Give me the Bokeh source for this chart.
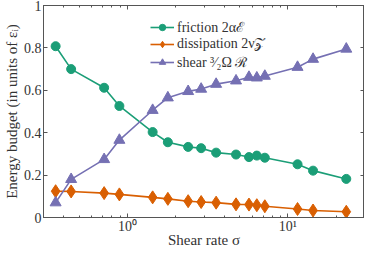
from bokeh.plotting import figure
from bokeh.models import (LogAxis, LinearAxis, FixedTicker, Range1d, Legend,
                          LegendItem)
from bokeh.embed import file_html
from bokeh.resources import INLINE

# ---- data ----
sigma = [0.357, 0.446, 0.716, 0.891, 1.436, 1.786, 2.39, 2.88, 3.57, 4.75,
         5.72, 6.40, 7.18, 11.48, 14.34, 23.1]
friction = [0.808, 0.700, 0.612, 0.526, 0.403, 0.355, 0.333, 0.327, 0.306,
            0.297, 0.285, 0.292, 0.282, 0.251, 0.221, 0.182]
dissipation = [0.124, 0.123, 0.115, 0.109, 0.095, 0.088, 0.077, 0.073, 0.070,
               0.062, 0.061, 0.058, 0.053, 0.040, 0.033, 0.027]
shear = [0.070, 0.180, 0.274, 0.365, 0.506, 0.565, 0.595, 0.606, 0.629,
         0.645, 0.662, 0.659, 0.667, 0.709, 0.747, 0.795]

series_labels = ["friction 2α\u2130", "dissipation 2ν\U0001D4B5", "shear \u00b3\u2044\u2082Ω \u211b"]

x_ticks = [1, 10]
x_tick_labels = ["10\u2070", "10\u00b9"]
x_minor = [0.3, 0.4, 0.5, 0.6, 0.7, 0.8, 0.9, 2, 3, 4, 5, 6, 7, 8, 9, 20, 30]
y_ticks = [0, 0.2, 0.4, 0.6, 0.8, 1]
y_tick_labels = ["0", "0.2", "0.4", "0.6", "0.8", "1"]

x_label = "Shear rate σ"
y_label = "Energy budget (in units of εᵢ)"

# ---- style ----
C_FR = "#1b9e77"
C_DI = "#d95f02"
C_SH = "#7570b3"
AX = "#555555"
TXT = "#333333"
FONT = "Liberation Serif"

p = figure(width=364, height=250, x_axis_type="log",
           x_range=Range1d(0.3, 30), y_range=Range1d(0, 1),
           output_backend="svg", toolbar_location=None,
           min_border_left=0, min_border_right=0, min_border_top=5,
           min_border_bottom=0)
p.xgrid.visible = False
p.ygrid.visible = False
p.outline_line_color = AX
p.background_fill_color = "white"
p.border_fill_color = "white"

xt = FixedTicker(ticks=x_ticks, minor_ticks=x_minor)
yt = FixedTicker(ticks=y_ticks, minor_ticks=[])
x_over = {t: l for t, l in zip(x_ticks, x_tick_labels)}
y_over = {t: l for t, l in zip(y_ticks, y_tick_labels)}

for ax in p.xaxis:
    ax.ticker = xt
    ax.major_label_overrides = x_over
    ax.axis_label = x_label
for ax in p.yaxis:
    ax.ticker = yt
    ax.major_label_overrides = y_over
    ax.axis_label = y_label

def style_axis(ax):
    ax.axis_line_color = AX
    ax.major_tick_line_color = AX
    ax.minor_tick_line_color = AX
    ax.major_tick_in = 4
    ax.major_tick_out = 0
    ax.minor_tick_in = 2
    ax.minor_tick_out = 0
    ax.major_label_text_font = FONT
    ax.major_label_text_font_size = "14px"
    ax.major_label_text_color = TXT
    ax.axis_label_text_font = FONT
    ax.axis_label_text_font_size = "15px"
    ax.axis_label_text_font_style = "normal"
    ax.axis_label_text_color = TXT
    ax.major_label_standoff = 3
    ax.axis_label_standoff = 3

for ax in p.xaxis + p.yaxis:
    style_axis(ax)
for ax in p.xaxis:
    ax.major_label_standoff = 1
    ax.axis_label_standoff = -5
for ax in p.yaxis:
    ax.major_label_standoff = 2
    ax.axis_label_standoff = 1

top = LogAxis(ticker=xt)
style_axis(top)
top.major_label_overrides = {t: "" for t in x_ticks}
top.major_label_standoff = 0
right = LinearAxis(ticker=yt)
style_axis(right)
right.major_label_overrides = {t: "" for t in y_ticks}
right.major_label_standoff = 0
p.add_layout(top, "above")
p.add_layout(right, "right")

lw = 1.6
l1 = p.line(sigma, friction, line_color=C_FR, line_width=lw)
s1 = p.scatter(sigma, friction, marker="circle", size=9, fill_color=C_FR,
               line_color=C_FR)
l2 = p.line(sigma, dissipation, line_color=C_DI, line_width=lw)
s2 = p.scatter(sigma, dissipation, marker="diamond", size=13, fill_color=C_DI,
               line_color=C_DI)
l3 = p.line(sigma, shear, line_color=C_SH, line_width=lw)
s3 = p.scatter(sigma, shear, marker="triangle", size=11, fill_color=C_SH,
               line_color=C_SH)

legend = Legend(items=[
    LegendItem(label=series_labels[0], renderers=[l1, s1]),
    LegendItem(label=series_labels[1], renderers=[l2, s2]),
    LegendItem(label=series_labels[2], renderers=[l3, s3]),
], location=(107, 146))
legend.border_line_color = None
legend.background_fill_alpha = 0
legend.padding = 0
legend.spacing = 0
legend.margin = 0
legend.glyph_width = 24
legend.glyph_height = 16
legend.label_height = 16
legend.label_standoff = 3
legend.label_text_font = FONT
legend.label_text_font_size = "14px"
legend.label_text_color = TXT
p.add_layout(legend)

open("out.html", "w").write(file_html(p, INLINE))
